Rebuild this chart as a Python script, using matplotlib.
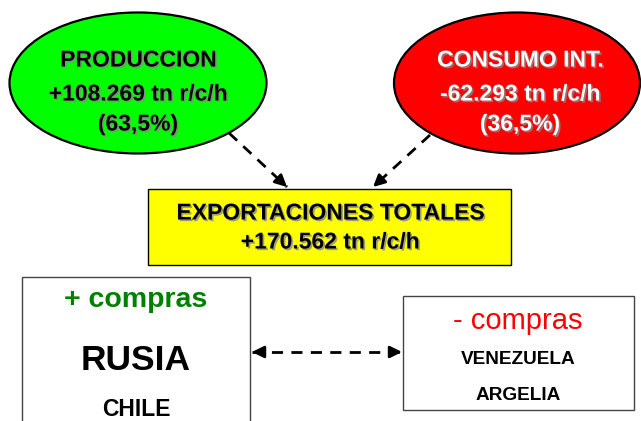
import matplotlib.pyplot as plt
import matplotlib.patheffects as pe
from matplotlib.patches import Ellipse, Rectangle

plt.rcParams['font.family'] = ['Liberation Sans', 'DejaVu Sans']

# balance figures
produccion = "+108.269 tn r/c/h"
produccion_pct = "(63,5%)"
consumo = "-62.293 tn r/c/h"
consumo_pct = "(36,5%)"
exportaciones = "+170.562 tn r/c/h"
mas_compras = ["RUSIA", "CHILE"]
menos_compras = ["VENEZUELA", "ARGELIA"]

W, H = 641, 421
fig = plt.figure(figsize=(W / 100, H / 100), dpi=100)
ax = fig.add_axes([0, 0, 1, 1])
ax.set_xlim(0, W)
ax.set_ylim(H, 0)
ax.axis('off')

shadow = [pe.SimplePatchShadow(offset=(1.2, -1.2), shadow_rgbFace='#888888', alpha=0.8), pe.Normal()]


def txt(x, y, s, size, color='black', weight='bold', fx=None):
    ax.text(x, y, s, ha='center', va='center', fontsize=size, color=color,
            fontweight=weight, path_effects=fx, zorder=5)


def dashed_arrow(p0, p1, both=False):
    ax.plot([p0[0], p1[0]], [p0[1], p1[1]], color='black', lw=2,
            dashes=(4, 3), zorder=3)
    ends = [(p0, p1)] + ([(p1, p0)] if both else [])
    for a, b in ends:
        dx, dy = b[0] - a[0], b[1] - a[1]
        n = (dx ** 2 + dy ** 2) ** 0.5
        start = (b[0] - dx / n * 12, b[1] - dy / n * 12)
        ax.annotate('', xy=b, xytext=start,
                    arrowprops=dict(arrowstyle='-|>,head_length=0.7,head_width=0.35',
                                    color='black', lw=2, shrinkA=0, shrinkB=0),
                    zorder=4)


# ellipses
ax.add_patch(Ellipse((138, 83), 257, 141, facecolor='#00ff00', edgecolor='black', lw=1.6, zorder=2))
ax.add_patch(Ellipse((517, 83), 246, 141, facecolor='#ff0000', edgecolor='black', lw=1.6, zorder=2))

txt(138, 60, "PRODUCCION", 16.5, fx=shadow)
txt(138, 94, produccion, 16.5, fx=shadow)
txt(138, 124, produccion_pct, 16.5, fx=shadow)

txt(520, 60, "CONSUMO INT.", 16.5, color='white', fx=shadow)
txt(520, 94, consumo, 16.5, color='white', fx=shadow)
txt(520, 124, consumo_pct, 16.5, color='white', fx=shadow)

# arrows to exports
dashed_arrow((229, 133), (287, 187))
dashed_arrow((430, 135), (373, 187))

# exports box
ax.add_patch(Rectangle((148, 189), 363, 76, facecolor='#ffff00', edgecolor='black', lw=1, zorder=2))
txt(330, 213, "EXPORTACIONES TOTALES", 16.5, fx=shadow)
txt(330, 242, exportaciones, 16.5, fx=shadow)

# buyers boxes
ax.add_patch(Rectangle((22, 277), 228, 160, facecolor='white', edgecolor='#444444', lw=1, zorder=2))
txt(136, 300, "+ compras", 20.5, color='#008000')
txt(136, 360, mas_compras[0], 25.5)
txt(136, 410, mas_compras[1], 16.5)

ax.add_patch(Rectangle((403, 296), 231, 114, facecolor='white', edgecolor='#444444', lw=1, zorder=2))
txt(518, 321, "- compras", 21, color='#ff0000', weight='normal')
txt(518, 360, menos_compras[0], 13.7)
txt(518, 395, menos_compras[1], 13.7)

dashed_arrow((252, 352), (402, 352), both=True)

fig.savefig('out.png', dpi=100, facecolor='white')
